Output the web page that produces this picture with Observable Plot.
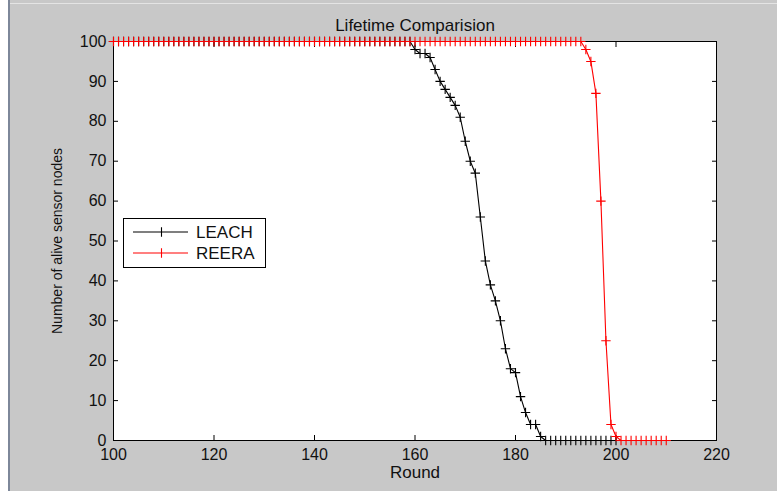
<!DOCTYPE html>
<html><head><meta charset="utf-8">
<script src="https://cdn.jsdelivr.net/npm/d3@7"></script>
<script src="https://cdn.jsdelivr.net/npm/@observablehq/plot@0.6"></script>
<style>
html,body{margin:0;padding:0;background:#c8c8c8;}
#wrap{position:relative;width:777px;height:491px;overflow:hidden;font-family:Arial,"Liberation Sans",sans-serif;}
#wrap svg{display:block;}
#strip{position:absolute;left:0;top:0;width:8px;height:491px;background:#ffffff;}
#edge{position:absolute;left:8px;top:0;width:2px;height:491px;background:#7d8799;}
#topline{position:absolute;left:10px;top:3px;width:767px;height:1px;background:#e4e4e4;}
#legend{position:absolute;left:123px;top:218px;width:141px;height:48px;background:#fff;border:1px solid #000;}
</style></head><body>
<div id="wrap"></div>
<script>
const title = "Lifetime Comparision";
const xLabel = "Round";
const yLabel = "Number of alive sensor nodes";
const seriesNames = ["LEACH", "REERA"];
const seriesColors = ["#000000", "#ff0000"];
const xTicks = [100, 120, 140, 160, 180, 200, 220];
const yTicks = [0, 10, 20, 30, 40, 50, 60, 70, 80, 90, 100];

// LEACH: alive nodes per round, starting at round 100
const leachFirstRound = 100;
const leachAlive = [
  100,100,100,100,100,100,100,100,100,100, // 100-109
  100,100,100,100,100,100,100,100,100,100, // 110-119
  100,100,100,100,100,100,100,100,100,100, // 120-129
  100,100,100,100,100,100,100,100,100,100, // 130-139
  100,100,100,100,100,100,100,100,100,100, // 140-149
  100,100,100,100,100,100,100,100,100,100, // 150-159
  98,97,97,96,93,90,88,86,84,81,           // 160-169
  75,70,67,56,45,39,35,30,23,18,           // 170-179
  17,11,7,4,4,1,0,0,0,0,                   // 180-189
  0,0,0,0,0,0,0,0,0,0,                     // 190-199
  0                                        // 200
];

// REERA: alive nodes per round, starting at round 100
const reeraFirstRound = 100;
const reeraAlive = [
  100,100,100,100,100,100,100,100,100,100, // 100-109
  100,100,100,100,100,100,100,100,100,100, // 110-119
  100,100,100,100,100,100,100,100,100,100, // 120-129
  100,100,100,100,100,100,100,100,100,100, // 130-139
  100,100,100,100,100,100,100,100,100,100, // 140-149
  100,100,100,100,100,100,100,100,100,100, // 150-159
  100,100,100,100,100,100,100,100,100,100, // 160-169
  100,100,100,100,100,100,100,100,100,100, // 170-179
  100,100,100,100,100,100,100,100,100,100, // 180-189
  100,100,100,100,98,95,87,60,25,4,        // 190-199
  1,0,0,0,0,0,0,0,0,0,                     // 200-209
  0                                        // 210
];

const rows = [
  ...leachAlive.map((v, i) => ({series: "LEACH", round: leachFirstRound + i, alive: v})),
  ...reeraAlive.map((v, i) => ({series: "REERA", round: reeraFirstRound + i, alive: v}))
];

const plusSymbol = {
  draw(context, size) {
    const h = Math.sqrt(size / Math.PI);
    context.moveTo(-h, 0); context.lineTo(h, 0);
    context.moveTo(0, -h); context.lineTo(0, h);
  }
};

const seriesMarks = seriesNames.flatMap(name => {
  const d = rows.filter(r => r.series === name);
  return [
    Plot.line(d, {x: "round", y: "alive", stroke: "series", strokeWidth: 1.1}),
    Plot.dot(d, {x: "round", y: "alive", stroke: "series", symbol: plusSymbol, r: 4.7, fill: "none", strokeWidth: 1.1})
  ];
});

const chart = Plot.plot({
  width: 777,
  height: 491,
  marginLeft: 113,
  marginRight: 61,
  marginTop: 41,
  marginBottom: 51,
  style: {background: "#c8c8c8", fontFamily: "Arial, 'Liberation Sans', sans-serif", fontSize: "16px", color: "#111"},
  x: {domain: [100, 220]},
  y: {domain: [0, 100]},
  color: {domain: seriesNames, range: seriesColors},
  marks: [
    Plot.frame({fill: "white", stroke: "none"}),
    Plot.axisY({anchor: "left", ticks: yTicks, tickSize: -5, tickPadding: 12, label: null, stroke: "#000"}),
    Plot.axisY({anchor: "right", ticks: yTicks, tickSize: -5, fill: "none", label: null, stroke: "#000"}),
    Plot.axisX({anchor: "bottom", ticks: xTicks, tickSize: -5, tickPadding: 13, label: null, stroke: "#000"}),
    Plot.axisX({anchor: "top", ticks: xTicks, tickSize: -5, fill: "none", label: null, stroke: "#000"}),
    Plot.frame({stroke: "#000", strokeWidth: 1}),
    ...seriesMarks,
    Plot.text([title], {frameAnchor: "top", dy: -16, text: d => d, fontSize: 17, lineAnchor: "middle", textAnchor: "middle", fill: "#111"}),
    Plot.text([xLabel], {frameAnchor: "bottom", dy: 32, text: d => d, fontSize: 17, lineAnchor: "middle", textAnchor: "middle", fill: "#111"}),
    Plot.text([yLabel], {frameAnchor: "left", dx: -56, rotate: -90, text: d => d, fontSize: 14, lineAnchor: "middle", textAnchor: "middle", fill: "#111"})
  ]
});

const wrap = document.getElementById("wrap");
wrap.appendChild(chart);
["strip", "edge", "topline"].forEach(id => {
  const el = document.createElement("div"); el.id = id; wrap.appendChild(el);
});

// legend
const legend = document.createElement("div");
legend.id = "legend";
const ns = "http://www.w3.org/2000/svg";
const lsvg = document.createElementNS(ns, "svg");
lsvg.setAttribute("width", 141); lsvg.setAttribute("height", 48);
seriesNames.forEach((name, i) => {
  const y = 13 + i * 21;
  const g = document.createElementNS(ns, "g");
  g.setAttribute("stroke", seriesColors[i]); g.setAttribute("stroke-width", 1.1);
  const line = document.createElementNS(ns, "path");
  line.setAttribute("d", `M9,${y}H64M37.5,${y - 4.7}V${y + 4.7}`);
  g.appendChild(line);
  lsvg.appendChild(g);
  const t = document.createElementNS(ns, "text");
  t.setAttribute("x", 72); t.setAttribute("y", y);
  t.setAttribute("dy", "0.36em");
  t.setAttribute("font-size", 17);
  t.setAttribute("font-family", "Arial, 'Liberation Sans', sans-serif");
  t.setAttribute("fill", "#111");
  t.textContent = name;
  lsvg.appendChild(t);
});
legend.appendChild(lsvg);
wrap.appendChild(legend);
</script>
</body></html>
